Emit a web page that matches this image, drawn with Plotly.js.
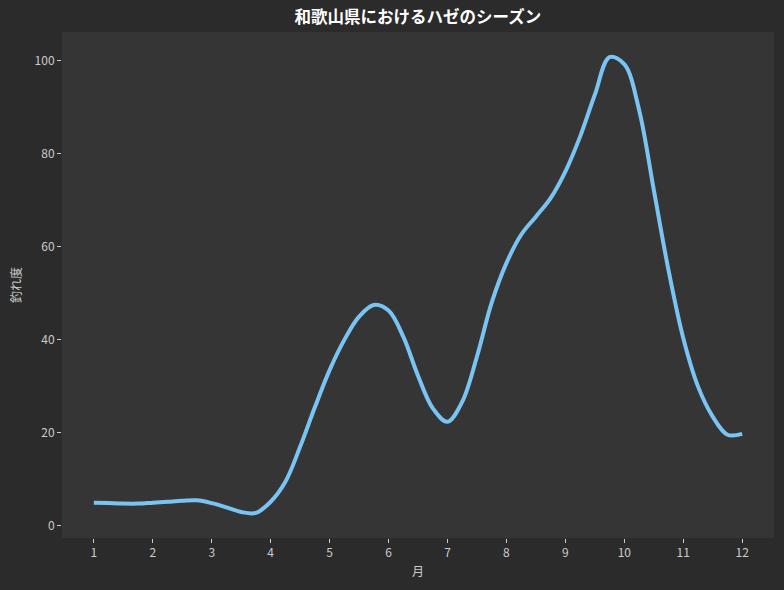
<!DOCTYPE html>
<html>
<head>
<meta charset="utf-8">
<script src="https://cdn.plot.ly/plotly-3.0.1.min.js"></script>
<style>
  html, body { margin: 0; padding: 0; background: #2b2b2b; }
  #chart { width: 784px; height: 590px; }
</style>
</head>
<body>
<div id="chart"></div>
<script>
// 月 (quarter-month positions along the curve)
var months = [1, 1.25, 1.5, 1.75, 2, 2.25, 2.5, 2.75, 3, 3.25, 3.5, 3.75,
              4, 4.25, 4.5, 4.75, 5, 5.25, 5.5, 5.75, 6, 6.25, 6.5, 6.75,
              7, 7.25, 7.5, 7.75, 8, 8.25, 8.5, 8.75, 9, 9.25, 9.5, 9.75,
              10, 10.25, 10.5, 10.75, 11, 11.25, 11.5, 11.75, 12];
// 釣れ度
var catchRate = [5.0, 4.9, 4.8, 4.8, 5.0, 5.2, 5.4, 5.5, 4.9, 4.0, 3.0, 2.8,
                 5.2, 9.5, 17, 25.5, 33.5, 40, 45, 47.5, 46.3, 40.7, 32.3, 25.3,
                 22.4, 26.7, 36.4, 48, 56.5, 62.6, 66.5, 70.5, 76.2, 83.7, 92.7, 100.8,
                 99.3, 89.5, 72.3, 55, 40.4, 30, 23.5, 19.6, 19.8];
var tickMonths = [1, 2, 3, 4, 5, 6, 7, 8, 9, 10, 11, 12];

var font = '"Noto Sans CJK JP", "Noto Sans", sans-serif';

var trace = {
    x: months,
    y: catchRate,
    mode: 'lines',
    line: { color: '#7ac4f3', width: 4, shape: 'spline', smoothing: 1 },
    hoverinfo: 'x+y'
};

var layout = {
    width: 784,
    height: 590,
    paper_bgcolor: '#2b2b2b',
    plot_bgcolor: '#353535',
    margin: { l: 62, r: 10, t: 32, b: 52 },
    showlegend: false,
    font: { family: font, color: '#cccccc', size: 12 },
    title: {
        text: '<b>和歌山県におけるハゼのシーズン</b>',
        font: { family: font, size: 16.5, color: '#ffffff' },
        x: 0.533, xanchor: 'center',
        y: 0.971, yanchor: 'middle'
    },
    xaxis: {
        range: [0.46, 12.54],
        tickvals: tickMonths,
        ticktext: tickMonths.map(String),
        ticks: 'outside', ticklen: 4, tickwidth: 1, tickcolor: '#cccccc',
        showgrid: false, zeroline: false, showline: false,
        tickfont: { size: 12, color: '#cccccc' },
        title: { text: '月', font: { size: 12, color: '#cccccc' }, standoff: 8 }
    },
    yaxis: {
        range: [-2.6, 106.2],
        tickvals: [0, 20, 40, 60, 80, 100],
        ticks: 'outside', ticklen: 4, tickwidth: 1, tickcolor: '#cccccc',
        showgrid: false, zeroline: false, showline: false,
        tickfont: { size: 12, color: '#cccccc' },
        title: { text: '釣れ度', font: { size: 12, color: '#cccccc' }, standoff: 10 }
    }
};

Plotly.newPlot('chart', [trace], layout, { displayModeBar: false, staticPlot: true });
</script>
</body>
</html>
